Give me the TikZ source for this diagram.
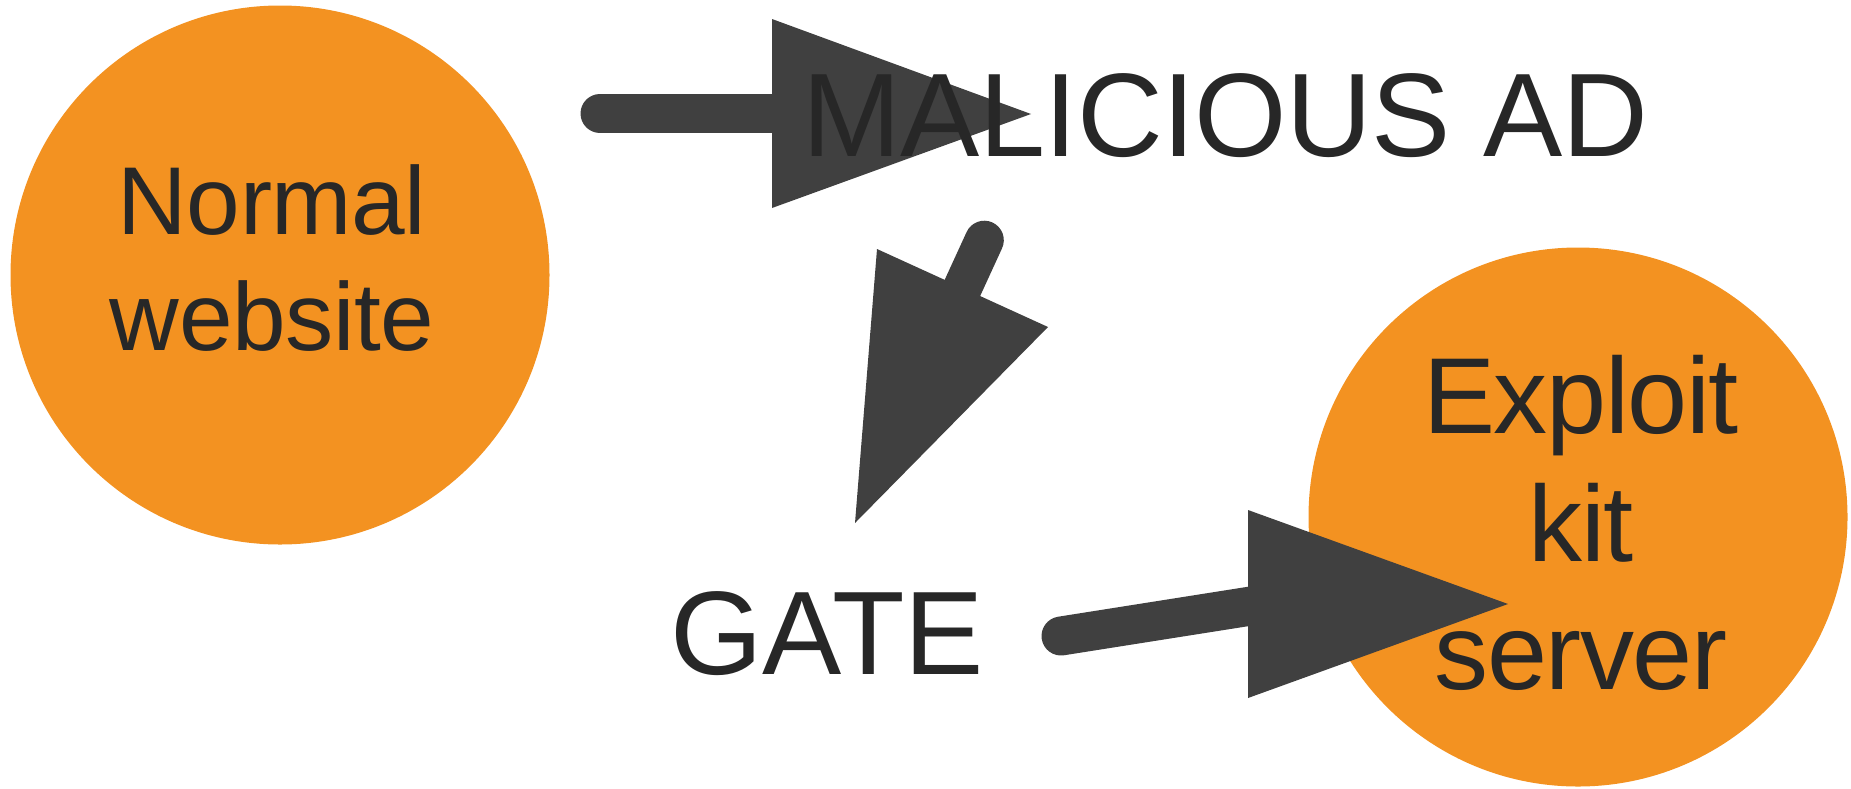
\documentclass[tikz,border=0pt]{standalone}
\usepackage{fontspec}
\setmainfont{Liberation Sans}
\newfontfamily\adfont[LetterSpace=-0.5]{Liberation Sans}
\newfontfamily\kitfont[LetterSpace=-1.3]{Liberation Sans}
\newfontfamily\webfont[LetterSpace=-0.4]{Liberation Sans}
\definecolor{kitorange}{RGB}{243,146,33}
\definecolor{arrowgray}{RGB}{64,64,64}
\definecolor{textdark}{RGB}{39,39,39}
\begin{document}
\begin{tikzpicture}[x=0.5pt,y=-0.5pt,
  bubble/.style={circle, fill=kitorange, inner sep=0pt, minimum size=269.5pt},
  lbl/.style={inner sep=0pt, text=textdark},
  bigfont/.style={font=\adfont\fontsize{59.4}{71}\selectfont},
  conn/.style={draw=arrowgray, line width=19.5pt, line cap=round},
  head/.style={fill=arrowgray}]
\useasboundingbox (0,0) rectangle (1851,788);
% circles
\node[bubble] (nw) at (280,275) {};
\node[bubble] (ek) at (1578,517) {};
% connector 1: Normal website -> MALICIOUS AD
\coordinate (a1s) at (600,113.5);
\coordinate (a1e) at (800,113.5);
\draw[conn] (a1s) -- (a1e);
\coordinate (h1a) at (772,19);
\coordinate (h1b) at (772,208);
\coordinate (h1t) at (1031,114);
\fill[head] (h1a) -- (h1b) -- (h1t) -- cycle;
% connector 2: MALICIOUS AD -> GATE
\coordinate (a2s) at (984.3,240.2);
\coordinate (a2e) at (922,376);
\draw[conn] (a2s) -- (a2e);
\coordinate (h2a) at (877,249);
\coordinate (h2b) at (1048,327);
\coordinate (h2t) at (855,523);
\fill[head] (h2a) -- (h2b) -- (h2t) -- cycle;
% connector 3: GATE -> Exploit kit server
\coordinate (a3s) at (1061,636);
\coordinate (a3e) at (1308,597);
\draw[conn] (a3s) -- (a3e);
\coordinate (h3a) at (1248,510);
\coordinate (h3b) at (1248,698);
\coordinate (h3t) at (1508,604);
\fill[head] (h3a) -- (h3b) -- (h3t) -- cycle;
% texts
\node[lbl, bigfont, anchor=base] (ad) at (1225,156) {MALICIOUS AD};
\node[lbl, bigfont, anchor=base] (gate) at (827,674) {GATE};
\node[lbl, font=\webfont\fontsize{48.2}{58}\selectfont, align=center] (nwt) at (272,258.5) {Normal\\website};
\node[lbl, font=\kitfont\fontsize{54}{64}\selectfont, align=center] (ekt) at (1581,523) {Exploit\\kit\\server};
\end{tikzpicture}
\end{document}
